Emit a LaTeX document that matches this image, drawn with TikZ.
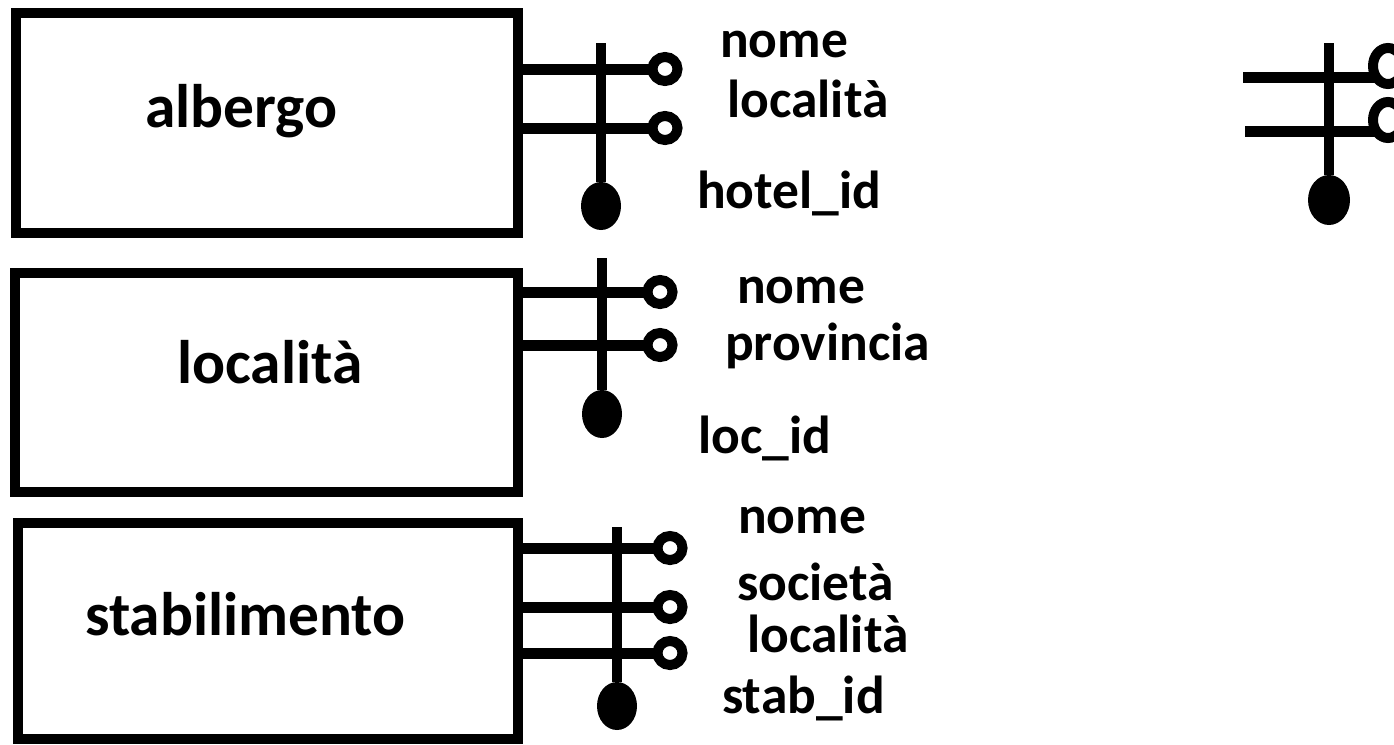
\documentclass[tikz,border=0pt]{standalone}
\usepackage{fontspec}
\setmainfont{Carlito}
\usepackage{tikz}
\usetikzlibrary{shapes.geometric,positioning}

\begin{document}
\begin{tikzpicture}
  [
    x=1pt, y=-1pt,
    Entity/.style={rectangle, draw=black, line width=10pt, outer sep=0pt},
    Title/.style={anchor=base west, inner sep=0pt, font=\fontsize{61.5}{64}\selectfont\bfseries},
    Attr/.style={anchor=base west, inner sep=0pt, font=\fontsize{53.5}{56}\selectfont\bfseries},
    Opt/.style={ellipse, draw=black, line width=10pt, minimum width=25pt, minimum height=24pt, inner sep=0pt, outer sep=0pt},
    Key/.style={ellipse, fill=black, minimum width=40pt, minimum height=48pt, inner sep=0pt, outer sep=0pt},
    link/.style={draw, line width=11pt},
    stem/.style={draw, line width=10pt}
  ]
  \useasboundingbox (0,0) rectangle (1394,744);
  \clip (0,0) rectangle (1394,744);
  % Entities
  \node[Entity, minimum width=502.5pt, minimum height=220pt] (alb) at (266.75,123) {};
  \node[Entity, minimum width=503pt, minimum height=219.5pt] (loc) at (266.5,382.25) {};
  \node[Entity, minimum width=500pt, minimum height=215.5pt] (stab) at (268,630.75) {};
  \node[Title] (albT) at (145,127) {albergo};
  \node[Title] (locT) at (177,383) {località};
  \node[Title] (stabT) at (85,635) {stabilimento};
  % albergo
  \node[Opt] (alb1) at (665,69) {};
  \node[Opt] (alb2) at (665,128) {};
  \node[Key] (albK) at (601,206) {};
  \coordinate (albS) at (601,43);
  \node[Attr] (albA1) at (720,57) {nome};
  \node[Attr] (albA2) at (727,117) {località};
  \node[Attr] (albA3) at (697,208) {hotel\_id};
  % localita
  \node[Opt] (loc1) at (660,292) {};
  \node[Opt] (loc2) at (660,345) {};
  \node[Key] (locK) at (602,414) {};
  \coordinate (locS) at (602,258);
  \node[Attr] (locA1) at (737,303) {nome};
  \node[Attr] (locA2) at (725,360) {provincia};
  \node[Attr] (locA3) at (698,453) {loc\_id};
  % stabilimento
  \node[Opt] (stab1) at (670,548) {};
  \node[Opt] (stab2) at (670,607) {};
  \node[Opt] (stab3) at (670,653) {};
  \node[Key] (stabK) at (617,706) {};
  \coordinate (stabS) at (617,527);
  \node[Attr] (stabA1) at (738,533) {nome};
  \node[Attr] (stabA2) at (737,600) {società};
  \node[Attr] (stabA3) at (747,652) {località};
  \node[Attr] (stabA4) at (722,713) {stab\_id};
  % fragment on the right
  \node[Opt, minimum width=30pt, minimum height=36pt] (rgt1) at (1388,66) {};
  \node[Opt, minimum width=30pt, minimum height=36pt] (rgt2) at (1388,120) {};
  \node[Key, minimum width=42pt, minimum height=50pt] (rgtK) at (1329,200) {};
  \coordinate (rgtS) at (1329,43);
  \coordinate (rgtH1) at (1243,77);
  \coordinate (rgtH2) at (1245,131);
  % Lines
  \path[link] (alb1.west) -- (alb1.west -| alb.east);
  \path[link] (alb2.west) -- (alb2.west -| alb.east);
  \path[stem] (albS) -- (albK);
  \path[link] (loc1.west) -- (loc1.west -| loc.east);
  \path[link] (loc2.west) -- (loc2.west -| loc.east);
  \path[stem] (locS) -- (locK);
  \path[link] (stab1.west) -- (stab1.west -| stab.east);
  \path[link] (stab2.west) -- (stab2.west -| stab.east);
  \path[link] (stab3.west) -- (stab3.west -| stab.east);
  \path[stem] (stabS) -- (stabK);
  \path[link] (rgtH1) -- (rgtH1 -| rgt1.220);
  \path[link] (rgtH2) -- (rgtH2 -| rgt2.220);
  \path[stem] (rgtS) -- (rgtK);
\end{tikzpicture}
\end{document}
